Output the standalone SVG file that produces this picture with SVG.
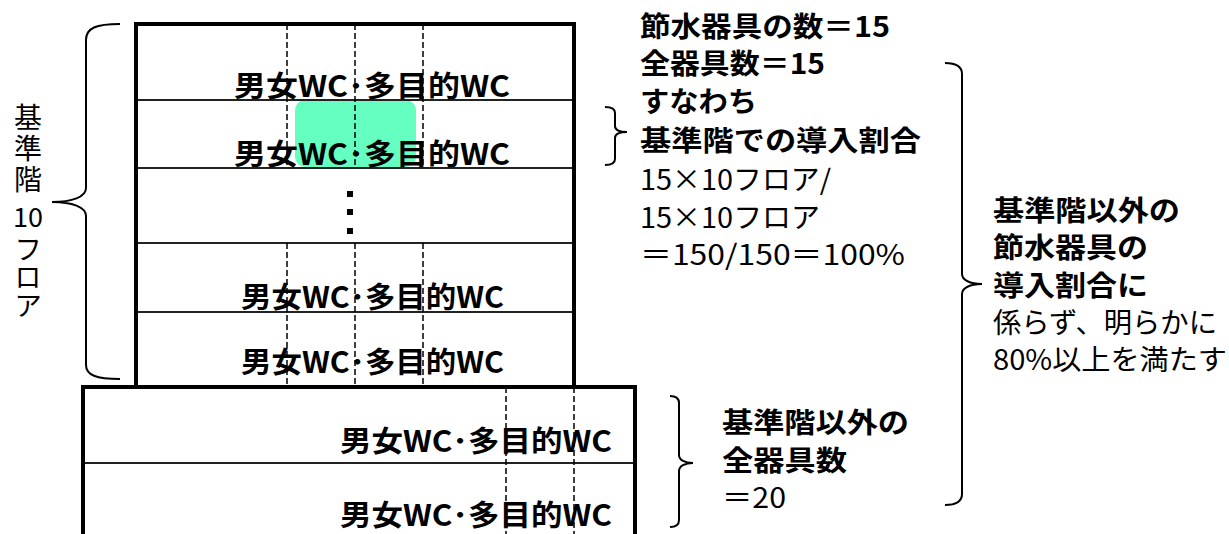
<svg xmlns="http://www.w3.org/2000/svg" width="1229" height="534" viewBox="0 0 1229 534">
<style>
.wall{fill:none;stroke:#000;stroke-width:4}
.floor{stroke:#222;stroke-width:2}
.dash{stroke:#000;stroke-width:1.5;stroke-dasharray:6 3}
.brace{fill:none;stroke:#000;stroke-width:2}
text{font-family:"Noto Sans CJK JP","Noto Sans CJK SC",sans-serif;fill:#000}
.b{font-weight:bold}
.wc{font-size:29px;font-weight:bold}
.t{font-size:28px}
.vt{font-size:28px;writing-mode:vertical-rl;text-orientation:upright}
</style>
<rect width="1229" height="534" fill="#fff"/>
<g id="highlight">
<rect x="295" y="100" width="121" height="67" rx="10" fill="#66FFC2"/>
</g>
<g id="upper-building">
<line class="floor" x1="136" y1="100" x2="574" y2="100"/>
<line class="floor" x1="136" y1="168" x2="574" y2="168"/>
<line class="floor" x1="136" y1="243" x2="574" y2="243"/>
<line class="floor" x1="136" y1="312" x2="574" y2="312"/>
<path class="dash" d="M287,24V168M355,24V168M423,24V168M287,243V387M355,243V387M423,243V387"/>
<path class="wall" d="M136,387V24H574V387"/>
<rect x="347" y="191" width="6" height="6"/>
<rect x="347" y="209" width="6" height="6"/>
<rect x="347" y="228" width="6" height="6"/>
<text class="wc" x="234" y="97" textLength="276" lengthAdjust="spacingAndGlyphs">男女WC･多目的WC</text>
<text class="wc" x="234" y="165" textLength="276" lengthAdjust="spacingAndGlyphs">男女WC･多目的WC</text>
<text class="wc" x="241" y="308" textLength="263" lengthAdjust="spacingAndGlyphs">男女WC･多目的WC</text>
<text class="wc" x="241" y="373" textLength="263" lengthAdjust="spacingAndGlyphs">男女WC･多目的WC</text>
</g>
<g id="lower-building">
<line class="floor" x1="83" y1="463" x2="635" y2="463"/>
<path class="dash" d="M506,387V534M574,387V534"/>
<path class="wall" d="M83,540V387H635V540"/>
<text class="wc" x="340" y="452" textLength="272" lengthAdjust="spacingAndGlyphs">男女WC･多目的WC</text>
<text class="wc" x="340" y="526" textLength="272" lengthAdjust="spacingAndGlyphs">男女WC･多目的WC</text>
</g>
<g id="connectors">
<path class="brace" d="M120,24C96,24 86,28 86,40V188C86,197 72,202 52,202C72,202 86,207 86,216V365C86,375 96,379 120,379"/>
<path class="brace" d="M605,107C611,107 615,109 615,113V126C615,130 620,132 627,132C620,132 615,134 615,138V159C615,163 611,165 605,165"/>
<path class="brace" d="M670,396C676,396 679,398 679,403V455C679,460 685,463 693,463C685,463 679,466 679,471V520C679,525 676,527 670,527"/>
<path class="brace" d="M945,63C956,63 962,66 962,74V274C962,280 970,284 982,284C970,284 962,288 962,294V494C962,502 956,505 945,505"/>
</g>
<g id="label-floors">
<text class="vt" x="28" y="103" letter-spacing="3">基準階</text>
<text x="28" y="227" font-size="27" text-anchor="middle">10</text>
<text class="vt" x="28" y="235" font-size="27">フロア</text>
</g>
<g id="label-standard">
<text class="t b" x="640" y="37" textLength="250" lengthAdjust="spacingAndGlyphs">節水器具の数＝15</text>
<text class="t b" x="640" y="74" textLength="185" lengthAdjust="spacingAndGlyphs">全器具数＝15</text>
<text class="t b" x="640" y="112" textLength="117" lengthAdjust="spacingAndGlyphs">すなわち</text>
<text class="t b" x="640" y="151" textLength="281" lengthAdjust="spacingAndGlyphs">基準階での導入割合</text>
<text class="t" x="640" y="190" textLength="191" lengthAdjust="spacingAndGlyphs">15×10フロア/</text>
<text class="t" x="640" y="228" textLength="180" lengthAdjust="spacingAndGlyphs">15×10フロア</text>
<text class="t" x="640" y="265" textLength="265" lengthAdjust="spacingAndGlyphs">＝150/150＝100%</text>
</g>
<g id="label-other">
<text class="t b" x="722" y="433" textLength="187" lengthAdjust="spacingAndGlyphs">基準階以外の</text>
<text class="t b" x="722" y="471" textLength="125" lengthAdjust="spacingAndGlyphs">全器具数</text>
<text class="t" x="722" y="508" textLength="64" lengthAdjust="spacingAndGlyphs">＝20</text>
</g>
<g id="label-conclusion">
<text class="t b" x="993" y="221" textLength="187" lengthAdjust="spacingAndGlyphs">基準階以外の</text>
<text class="t b" x="993" y="258" textLength="155" lengthAdjust="spacingAndGlyphs">節水器具の</text>
<text class="t b" x="993" y="296" textLength="155" lengthAdjust="spacingAndGlyphs">導入割合に</text>
<text class="t" x="993" y="333" textLength="224" lengthAdjust="spacingAndGlyphs">係らず、明らかに</text>
<text class="t" x="993" y="370" textLength="234" lengthAdjust="spacingAndGlyphs">80%以上を満たす</text>
</g>
</svg>
